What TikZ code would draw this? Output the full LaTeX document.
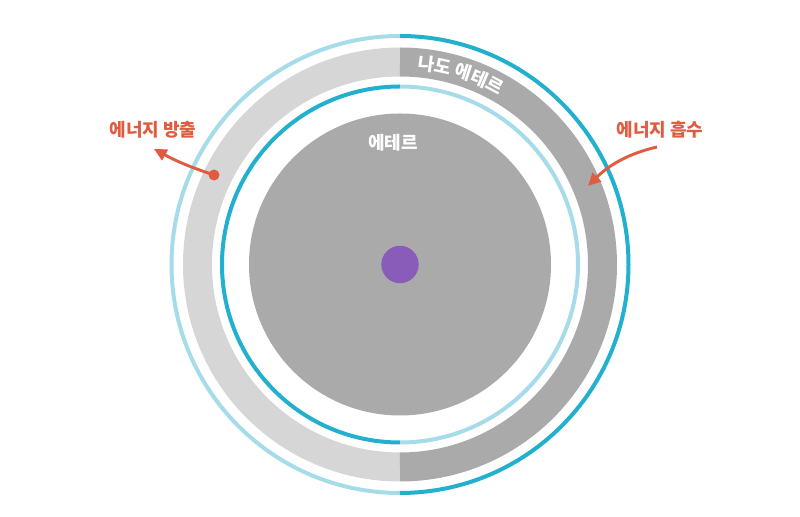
\documentclass[tikz,border=0pt]{standalone}
\usepackage{fontspec}
\usepackage{tikz}
\usetikzlibrary{arrows.meta,decorations.text}
\newfontfamily\krfont{Noto Sans CJK KR}
\definecolor{ringdark}{RGB}{34,176,206}
\definecolor{ringlight}{RGB}{166,220,233}
\definecolor{bandlight}{RGB}{214,214,214}
\definecolor{banddark}{RGB}{170,170,170}
\definecolor{coregray}{RGB}{170,170,170}
\definecolor{dotpurple}{RGB}{138,92,186}
\definecolor{flowred}{RGB}{223,92,64}

\begin{document}
\begin{tikzpicture}[
    x=0.75pt, y=0.75pt,
    lbl/.style={font=\krfont\bfseries\fontsize{13.5}{16}\selectfont, inner sep=1pt},
    ring/.style={line width=3pt},
    band/.style={line width=21.75pt},
    flow/.style={-{Triangle[length=9.5pt,width=9pt]}, line width=2.2pt, draw=flowred}
  ]
    \useasboundingbox (0,0) rectangle (800,517);
    \coordinate (c) at (400,252.5);

    \draw[ring, ringlight] ([shift={(c)}]90:228.5) arc[start angle=90, end angle=270, radius=228.5];
    \draw[ring, ringdark] ([shift={(c)}]-90:228.5) arc[start angle=-90, end angle=90, radius=228.5];

    \draw[band, bandlight] ([shift={(c)}]90:202.5) arc[start angle=90, end angle=270, radius=202.5];
    \draw[band, banddark] ([shift={(c)}]-90:202.5) arc[start angle=-90, end angle=90, radius=202.5];

    \draw[ring, ringdark] ([shift={(c)}]90:178) arc[start angle=90, end angle=270, radius=178];
    \draw[ring, ringlight] ([shift={(c)}]-90:178) arc[start angle=-90, end angle=90, radius=178];

    \fill[coregray] (c) circle (151);
    \fill[dotpurple] (c) circle (18.7);

    \path[decorate, decoration={text along path, text align=left,
        text={|\krfont\bfseries\fontsize{13.5}{15}\selectfont\color{white}|나도 에테르}}]
      ([shift={(c)}]85:196) arc[start angle=85, end angle=40, radius=196];

    \node[lbl, text=white] (ether) at (393,374) {에테르};
    \node[lbl, text=flowred] (emit) at (153,387) {에너지 방출};
    \node[lbl, text=flowred] (absorb) at (660,387) {에너지 흡수};

    \coordinate (emitdot) at (214,342);
    \coordinate (emittip) at (154,368);
    \coordinate (absorbstart) at (657,370);
    \coordinate (absorbtip) at (588,331);

    \fill[flowred] (emitdot) circle (5.5);
    \draw[flow] (emitdot) to[bend left=5] (emittip);
    \draw[flow] (absorbstart) .. controls (622,362) and (604,347) .. (absorbtip);

  \end{tikzpicture}
\end{document}
